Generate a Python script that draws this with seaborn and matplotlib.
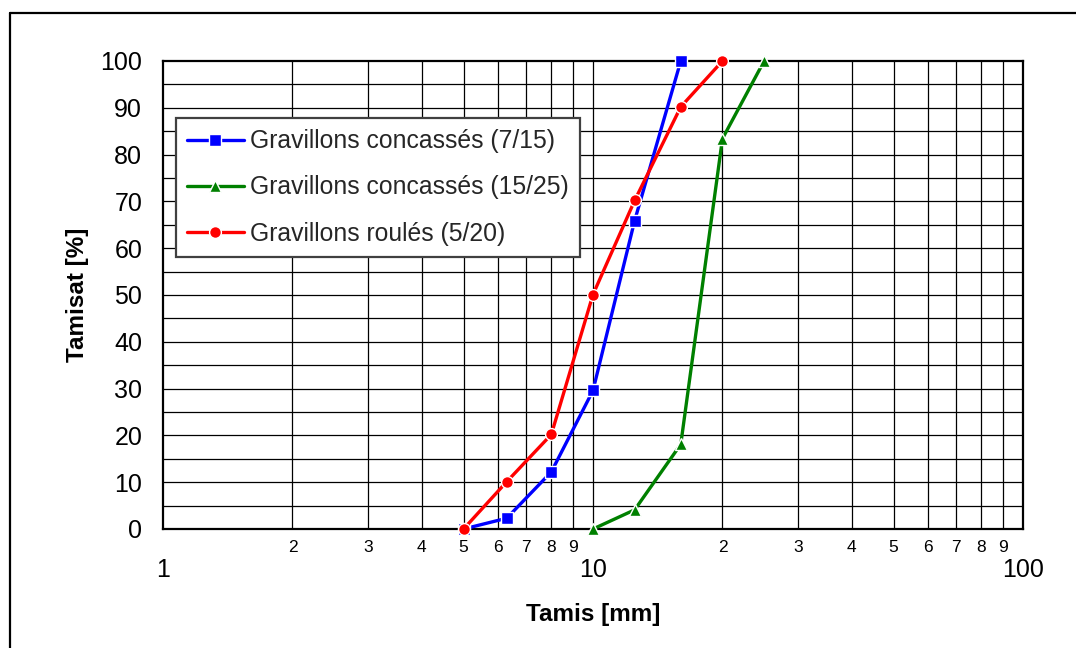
import matplotlib
matplotlib.use('Agg')
import matplotlib.pyplot as plt
from matplotlib.lines import Line2D
from matplotlib.ticker import FixedLocator, FixedFormatter
import pandas as pd
import seaborn as sns

# sieve sizes (mm) and passing (%) per aggregate
sieve_7_15 = [5, 6.3, 8, 10, 12.5, 16]
pass_7_15 = [0, 2.3, 12.2, 29.6, 65.9, 100]

sieve_15_25 = [10, 12.5, 16, 20, 25]
pass_15_25 = [0, 4.1, 18.1, 83.4, 100]

sieve_5_20 = [5, 6.3, 8, 10, 12.5, 16, 20]
pass_5_20 = [0, 10.1, 20.2, 50.1, 70.2, 90.2, 100]

labels = ['Gravillons concassés (7/15)', 'Gravillons concassés (15/25)', 'Gravillons roulés (5/20)']
colors = ['#0000ff', '#008000', '#ff0000']
markers = ['s', '^', 'o']

major_x = [1, 10, 100]
minor_x = [2, 3, 4, 5, 6, 7, 8, 9, 20, 30, 40, 50, 60, 70, 80, 90]
minor_x_labels = ['2', '3', '4', '5', '6', '7', '8', '9', '2', '3', '4', '5', '6', '7', '8', '9']
y_ticks = list(range(0, 101, 10))

sns.set_theme(style='white')
plt.rcParams['font.family'] = ['Liberation Sans', 'DejaVu Sans']

fig = plt.figure(figsize=(10.76, 6.48), dpi=100)
ax = fig.add_axes([163 / 1076, 1 - 529 / 648, 860 / 1076, 468 / 648])

series = [(sieve_7_15, pass_7_15), (sieve_15_25, pass_15_25), (sieve_5_20, pass_5_20)]
for (xs, ys), lab, c, m in zip(series, labels, colors, markers):
    df = pd.DataFrame({'tamis': xs, 'tamisat': ys})
    sns.lineplot(data=df, x='tamis', y='tamisat', ax=ax, color=c, marker=m,
                 markersize=8.5, markeredgecolor='white', markeredgewidth=1,
                 linewidth=2.4, label=lab, sort=False, zorder=5, clip_on=False)

ax.set_xscale('log')
ax.set_xlim(1, 100)
ax.set_ylim(0, 100)

# grid: y every 5, x on each log step
for v in range(5, 100, 5):
    ax.axhline(v, color='black', lw=0.9, zorder=1)
for v in major_x[1:-1] + minor_x:
    ax.axvline(v, color='black', lw=0.9, zorder=1)

ax.xaxis.set_major_locator(FixedLocator(major_x))
ax.xaxis.set_major_formatter(FixedFormatter([str(v) for v in major_x]))
ax.xaxis.set_minor_locator(FixedLocator(minor_x))
ax.xaxis.set_minor_formatter(FixedFormatter(minor_x_labels))
ax.set_yticks(y_ticks)

ax.tick_params(axis='x', which='major', length=0, pad=21, labelsize=18, colors='black')
ax.tick_params(axis='x', which='minor', length=0, pad=8, labelsize=12.5, colors='black')
ax.tick_params(axis='y', length=0, pad=15, labelsize=18, colors='black')

for s in ax.spines.values():
    s.set_color('black')
    s.set_linewidth(1.6)

ax.set_xlabel('Tamis [mm]', fontsize=17.5, fontweight='bold', color='black', labelpad=15)
ax.set_ylabel('Tamisat [%]', fontsize=17.5, fontweight='bold', color='black', labelpad=8)

leg = ax.legend(loc='upper left', bbox_to_anchor=(0.015, 0.878), fontsize=17.8,
                frameon=True, fancybox=False, shadow=False, framealpha=1,
                handlelength=2.3, handletextpad=0.25, labelspacing=0.9,
                borderpad=0.45, borderaxespad=0)
leg.get_frame().set_edgecolor('#404040')
leg.get_frame().set_linewidth(1.6)
leg.set_zorder(10)

# outer chart frame (top and left edges visible)
fig.add_artist(Line2D([10 / 1076, 10 / 1076], [0, 1 - 13 / 648], transform=fig.transFigure, color='black', lw=1.6))
fig.add_artist(Line2D([10 / 1076, 1], [1 - 13 / 648, 1 - 13 / 648], transform=fig.transFigure, color='black', lw=1.6))

fig.savefig('out.png', dpi=100)
